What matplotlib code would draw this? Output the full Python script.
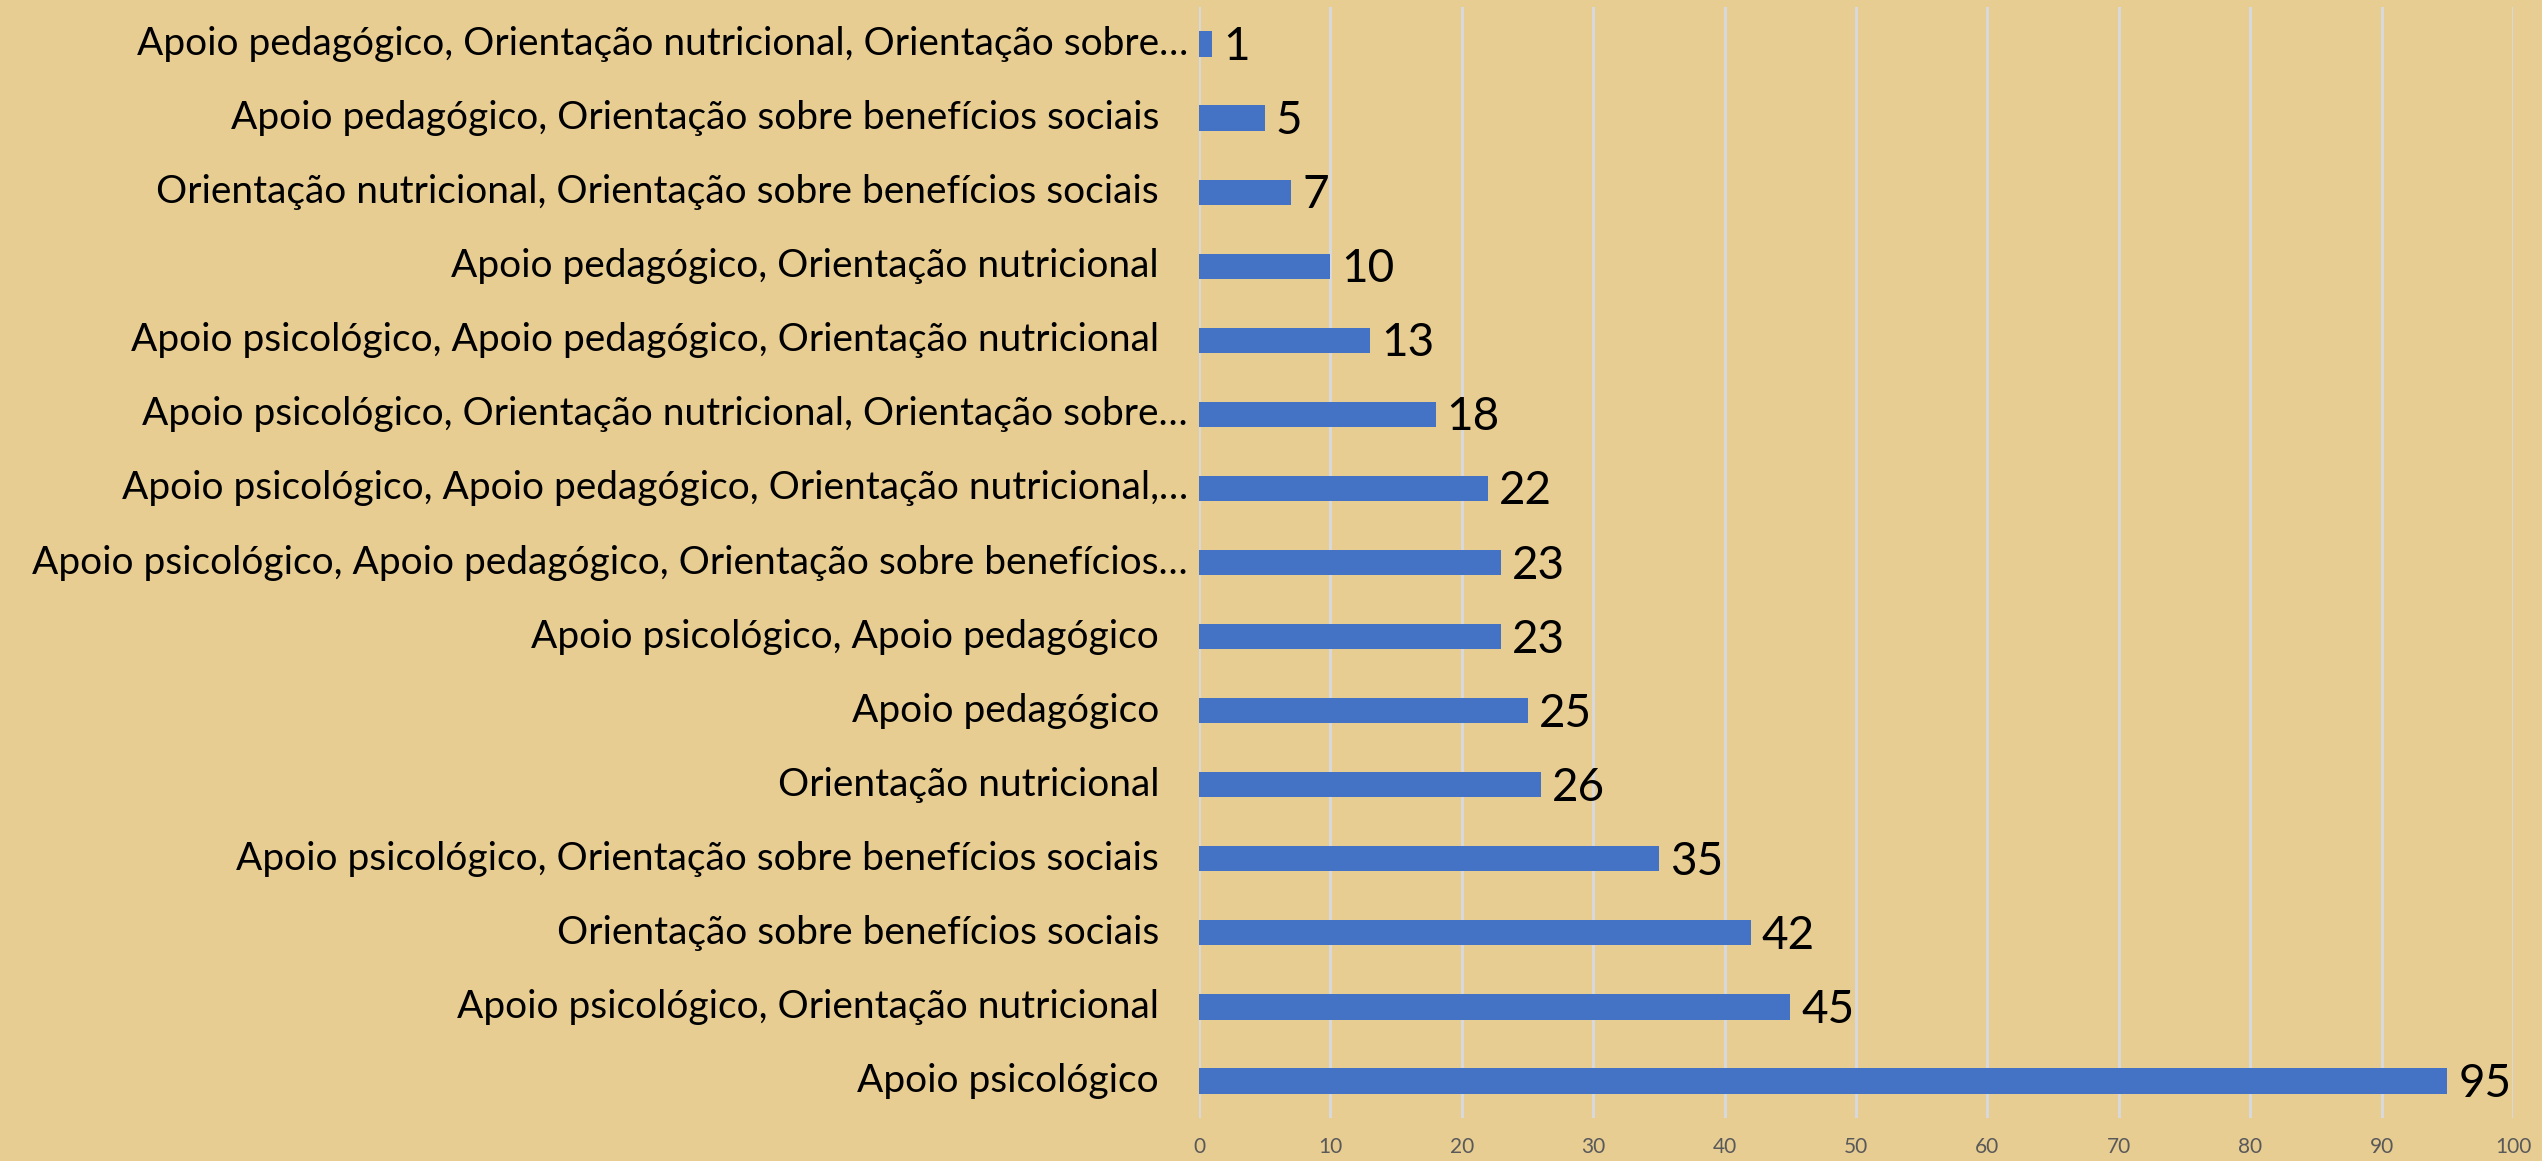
import matplotlib
matplotlib.use("Agg")
import matplotlib.pyplot as plt
from matplotlib.transforms import offset_copy

# categorias de cima para baixo, como no gráfico
categorias = [
    "Apoio pedagógico, Orientação nutricional, Orientação sobre…",
    "Apoio pedagógico, Orientação sobre benefícios sociais",
    "Orientação nutricional, Orientação sobre benefícios sociais",
    "Apoio pedagógico, Orientação nutricional",
    "Apoio psicológico, Apoio pedagógico, Orientação nutricional",
    "Apoio psicológico, Orientação nutricional, Orientação sobre…",
    "Apoio psicológico, Apoio pedagógico, Orientação nutricional,…",
    "Apoio psicológico, Apoio pedagógico, Orientação sobre benefícios…",
    "Apoio psicológico, Apoio pedagógico",
    "Apoio pedagógico",
    "Orientação nutricional",
    "Apoio psicológico, Orientação sobre benefícios sociais",
    "Orientação sobre benefícios sociais",
    "Apoio psicológico, Orientação nutricional",
    "Apoio psicológico",
]
valores = [1, 5, 7, 10, 13, 18, 22, 23, 23, 25, 26, 35, 42, 45, 95]
xticks = list(range(0, 101, 10))

fundo = "#e8cd93"
azul = "#4472c4"
fonte = ["Lato", "DejaVu Sans"]

fig = plt.figure(figsize=(25.42, 11.61), dpi=100, facecolor=fundo)
ax = fig.add_axes([0.4717, 0.037, 0.5169, 0.957])
ax.set_facecolor(fundo)

n = len(categorias)
pos = [n - 1 - i for i in range(n)]
ax.barh(pos, valores, height=0.34, color=azul, zorder=3)

ax.set_xlim(0, 100)
ax.set_ylim(-0.5, n - 0.5)
ax.set_xticks(xticks)
ax.set_xticklabels([str(t) for t in xticks], family=fonte, fontsize=15, color="#595959")
ax.tick_params(axis="x", length=0, pad=14)
ax.set_yticks([])
ax.grid(axis="x", color="#d6dae0", linewidth=2, zorder=0)
for s in ax.spines.values():
    s.set_visible(False)

# rótulos das categorias (os truncados ficam mais perto do eixo, como no Excel)
trans_longo = offset_copy(ax.get_yaxis_transform(), fig=fig, x=-11, y=0, units="dots")
trans_curto = offset_copy(ax.get_yaxis_transform(), fig=fig, x=-40, y=0, units="dots")
for p, cat in zip(pos, categorias):
    tr = trans_longo if cat.endswith("…") else trans_curto
    ax.text(0, p, cat, transform=tr, ha="right", va="center",
            family=fonte, fontsize=28, color="black")

# rótulos de valor
for p, v in zip(pos, valores):
    ax.annotate(str(v), (v, p), xytext=(11, -3), textcoords="offset pixels",
                ha="left", va="center", family=fonte, fontsize=33, color="black")

fig.savefig("out.png", dpi=100, facecolor=fundo)
